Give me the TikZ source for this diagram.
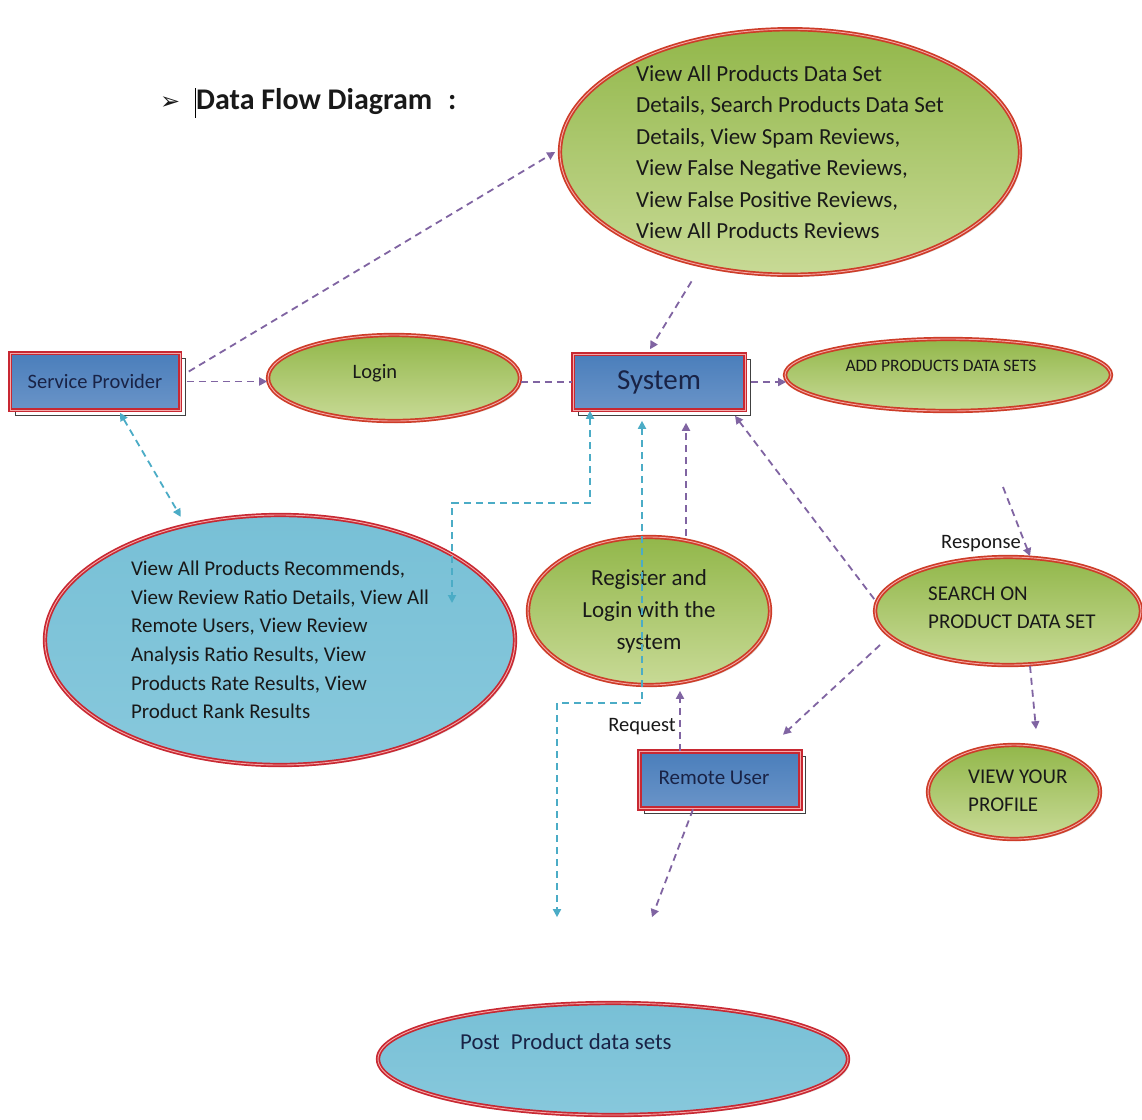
\documentclass[tikz,border=0pt]{standalone}
\usepackage{fontspec}
\setmainfont{Carlito}
\newfontfamily\symfont{DejaVu Sans}
\usetikzlibrary{shapes.geometric,arrows.meta,shadows}
\definecolor{dfpurple}{RGB}{128,100,162}
\definecolor{dfteal}{RGB}{75,172,198}
\definecolor{dfred}{RGB}{200,40,50}
\definecolor{dfpink}{RGB}{245,170,170}
\definecolor{dforange}{RGB}{205,60,40}
\definecolor{gtop}{RGB}{146,183,74}
\definecolor{gbot}{RGB}{200,218,150}
\definecolor{btop}{RGB}{120,192,214}
\definecolor{bmid}{RGB}{66,163,193}
\definecolor{bbot}{RGB}{135,200,220}
\definecolor{rtop}{RGB}{74,126,187}
\definecolor{rmid}{RGB}{157,185,221}
\definecolor{rbot}{RGB}{106,148,200}
\definecolor{navy}{RGB}{25,35,70}
\begin{document}
\begin{tikzpicture}[x=1pt,y=-1pt,
  greenell/.style={ellipse, inner sep=0pt, draw=dforange, double=dfpink, double distance=0.9pt, line width=1.7pt,
     top color=gtop, bottom color=gbot, text=black!90,
     drop shadow={shadow xshift=2pt, shadow yshift=-2pt, opacity=0.25}},
  blueell/.style={ellipse, inner sep=0pt, draw=dfred, double=dfpink, double distance=0.9pt, line width=1.7pt,
     top color=btop, middle color=bmid, bottom color=bbot, text=black!90,
     drop shadow={shadow xshift=2pt, shadow yshift=-2pt, opacity=0.25}},
  procbox/.style={rectangle, inner sep=0pt, draw=dfred, double=dfpink, double distance=0.9pt, line width=1.6pt,
     top color=rtop, middle color=rmid, bottom color=rbot, text=navy,
     drop shadow={shadow xshift=5pt, shadow yshift=-5pt, fill=white, draw=black!75, line width=0.9pt, opacity=1}},
  pflow/.style={draw=dfpurple, line width=1.8pt, dash pattern=on 7pt off 5pt,
     -{Triangle[length=8pt,width=8pt]}},
  pline/.style={draw=dfpurple, line width=1.8pt, dash pattern=on 7pt off 5pt},
  tflow/.style={draw=dfteal, line width=1.8pt, dash pattern=on 7pt off 5pt,
     {Triangle[length=8pt,width=8pt]}-{Triangle[length=8pt,width=8pt]}},
  lbl/.style={inner sep=0pt, text=black!90}
]
\useasboundingbox[fill=white] (0,0) rectangle (1142,1119);

% title
\node[lbl, anchor=west] (arrowmark) at (160,103) {\symfont\fontsize{24}{26}\selectfont ➢};
\draw[black, line width=1pt] (195,88) -- (195,118);
\node[lbl, anchor=west] (title) at (196,102) {\fontsize{30}{32}\selectfont\bfseries Data Flow Diagram\hspace{16pt}:};

% nodes
\node[greenell, minimum width=460pt, minimum height=245pt, align=left,
      font=\fontsize{23}{31.5}\selectfont] (big) at (790,152)
 {View All Products Data Set\\Details, Search Products Data Set\\Details, View Spam Reviews,\\View False Negative Reviews,\\View False Positive Reviews,\\View All Products Reviews};

\node[procbox, minimum width=170pt, minimum height=57pt, font=\fontsize{20.5}{22}\selectfont] (sp) at (95,381.5) {Service Provider};

\node[greenell, minimum width=252pt, minimum height=86pt] (login) at (394,378) {};
\node[lbl, font=\fontsize{20.5}{22}\selectfont] (logintxt) at (375,373) {Login};

\node[procbox, minimum width=172pt, minimum height=56pt, font=\fontsize{29}{31}\selectfont] (sys) at (659,382) {System};

\node[greenell, minimum width=326pt, minimum height=72pt] (add) at (948,375) {};
\node[lbl, font=\fontsize{17.5}{19}\selectfont] (addtxt) at (941,366) {ADD PRODUCTS DATA SETS};

\node[blueell, minimum width=470pt, minimum height=250pt, align=left,
      font=\fontsize{21}{28.7}\selectfont] (blueL) at (280,640)
 {View All Products Recommends,\\View Review Ratio Details, View All\\Remote Users, View Review\\Analysis Ratio Results, View\\Products Rate Results, View\\Product Rank Results};

\node[greenell, minimum width=242pt, minimum height=148pt, align=center,
      font=\fontsize{23}{32}\selectfont] (reg) at (649,611)
 {Register and\\Login with the\\system};

\node[greenell, minimum width=266pt, minimum height=108pt] (search) at (1008,611) {};
\node[lbl, anchor=west, align=left, font=\fontsize{21}{28}\selectfont] (searchtxt) at (928,608) {SEARCH ON\\PRODUCT DATA SET};

\node[greenell, minimum width=172pt, minimum height=94pt] (profile) at (1014,792) {};
\node[lbl, anchor=west, align=left, font=\fontsize{21}{28}\selectfont] (profiletxt) at (968,791) {VIEW YOUR\\PROFILE};

\node[procbox, minimum width=161pt, minimum height=57pt] (ru) at (720,780) {};
\node[lbl, text=navy, font=\fontsize{21}{23}\selectfont] (rutxt) at (714,778) {Remote User};

\node[blueell, minimum width=470pt, minimum height=112pt] (post) at (613,1059) {};
\node[lbl, anchor=west, font=\fontsize{22.8}{25}\selectfont, text=navy] (posttxt) at (460,1042) {Post\hspace{6pt} Product data sets};

% labels
\node[lbl, font=\fontsize{20.5}{22}\selectfont] (reqlbl) at (642,727) {Request};
\node[lbl, font=\fontsize{20.5}{22}\selectfont] (resplbl) at (981,544) {Response};

% free coordinates
\coordinate (t7mid) at (452,503);
\coordinate (t7end) at (452,603);
\coordinate (t8mid) at (557,703);
\coordinate (respstart) at (1003,487);

% connectors
\draw[pflow] ([xshift=8pt,yshift=10pt]sp.east) -- ([xshift=-4pt]big.west);
\draw[pflow] ([xshift=6pt]sp.east) -- (sp.east -| login.west);
\draw[pline] (login.east |- sys.west) -- (sys.west);
\draw[pflow] ([xshift=5pt]sys.east) -- ([xshift=2pt]sys.east -| add.west);
\draw[pflow, shorten <=18pt] (big.232) -- ([xshift=-9pt,yshift=4pt]sys.north);
\draw[tflow] ([xshift=25pt,yshift=-2pt]sp.south) -- ([yshift=9pt]blueL.131);
\draw[tflow] ([xshift=-69pt]sys.south) |- (t7mid) -- (t7end);
\draw[tflow] ([xshift=-17pt,yshift=-10pt]sys.south) |- (t8mid) -- ([xshift=-56pt,yshift=85pt]post.north);
\draw[pflow] ([xshift=37pt]reg.north) -- ([xshift=27pt,yshift=-12pt]sys.south);
\draw[pflow] ([xshift=-40pt]ru.north) -- ([xshift=31pt,yshift=-5pt]reg.south);
\draw[pflow] ([yshift=12pt]search.west) -- ([xshift=76pt,yshift=-5pt]sys.south);
\draw[pflow] (respstart) -- ([xshift=22pt]search.north);
\draw[pflow] ([xshift=-128pt,yshift=-34pt]search.center) -- ([xshift=63pt,yshift=16pt]ru.north);
\draw[pflow] ([xshift=22pt]search.south) -- ([xshift=22pt,yshift=15pt]profile.north);
\draw[pflow] ([xshift=-27pt]ru.south) -- ([xshift=39pt,yshift=85pt]post.north);
\end{tikzpicture}
\end{document}
